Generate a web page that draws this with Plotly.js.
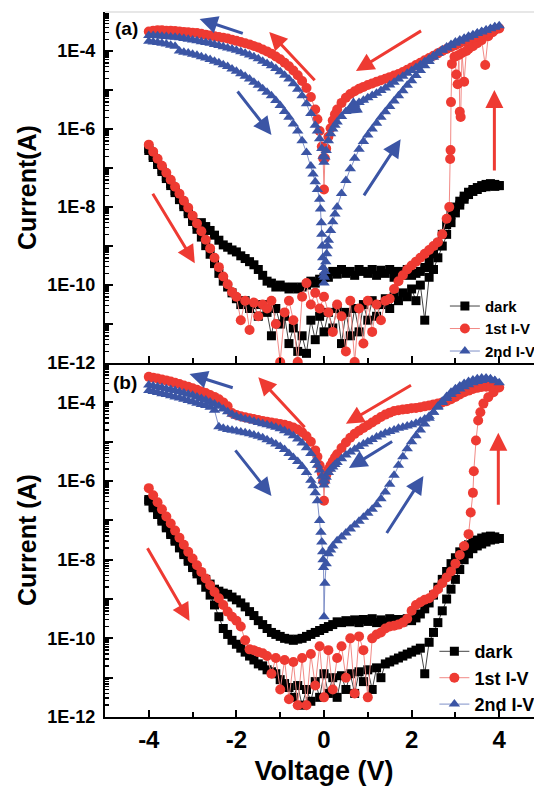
<!DOCTYPE html>
<html>
<head>
<meta charset="utf-8">
<script src="https://cdn.plot.ly/plotly-3.0.1.min.js"></script>
<style>
html,body{margin:0;padding:0;background:#fff;overflow:hidden;}
#chart{width:560px;height:786px;}
</style>
</head>
<body>
<div id="chart"></div>
<script>
// ---------- voltage grids (V) ----------
const vUp = [-4.0,-3.9,-3.8,-3.7,-3.6,-3.5,-3.4,-3.3,-3.2,-3.1,-3.0,-2.9,-2.8,-2.7,-2.6,-2.5,-2.4,-2.3,-2.2,-2.1,
 -2.0,-1.9,-1.8,-1.7,-1.6,-1.5,-1.4,-1.3,-1.2,-1.1,-1.0,-0.9,-0.8,-0.7,-0.6,-0.5,-0.4,-0.3,-0.2,-0.1,
 0.0,0.1,0.2,0.3,0.4,0.5,0.6,0.7,0.8,0.9,1.0,1.1,1.2,1.3,1.4,1.5,1.6,1.7,1.8,1.9,
 2.0,2.1,2.2,2.3,2.4,2.5,2.6,2.7,2.8,2.9,3.0,3.1,3.2,3.3,3.4,3.5,3.6,3.7,3.8,3.9,4.0];
const vDown = [4.0,3.9,3.8,3.7,3.6,3.5,3.4,3.3,3.2,3.1,3.0,2.9,2.8,2.7,2.6,2.5,2.4,2.3,2.2,2.1,
 2.0,1.9,1.8,1.7,1.6,1.5,1.4,1.3,1.2,1.1,1.0,0.9,0.8,0.7,0.6,0.5,0.4,0.3,0.2,0.1,
 0.0,-0.1,-0.2,-0.3,-0.4,-0.5,-0.6,-0.7,-0.8,-0.9,-1.0,-1.1,-1.2,-1.3,-1.4,-1.5,-1.6,-1.7,-1.8,-1.9,
 -2.0,-2.1,-2.2,-2.3,-2.4,-2.5,-2.6,-2.7,-2.8,-2.9,-3.0,-3.1,-3.2,-3.3,-3.4,-3.5,-3.6,-3.7,-3.8,-3.9,-4.0];
const vRetR = [3.9,3.8,3.7,3.6,3.5,3.4,3.3,3.2,3.1,3.0,2.9,2.8,2.7,2.6,2.5,2.4,2.3,2.2,2.1,2.0,
 1.9,1.8,1.7,1.6,1.5,1.4,1.3,1.2,1.1,1.0,0.9,0.8,0.7,0.6,0.5,0.4,0.3,0.25,0.2,0.15,0.1,0.05,0.02,0.0];
const vRetL = [-0.02,-0.05,-0.1,-0.15,-0.2,-0.3,-0.4,-0.5,-0.6,-0.7,-0.8,-0.9,-1.0,-1.1,-1.2,-1.3,-1.4,-1.5,-1.6,-1.7,
 -1.8,-1.9,-2.0,-2.1,-2.2,-2.3,-2.4,-2.5,-2.6,-2.7,-2.8,-2.9,-3.0,-3.1,-3.2,-3.3,-3.4,-3.5,-3.6,-3.7,-3.8,-3.9,-4.0];
const vDipL = [-4.0,-3.9,-3.8,-3.7,-3.6,-3.5,-3.4,-3.3,-3.2,-3.1,-3.0,-2.9,-2.8,-2.7,-2.6,-2.5,-2.4,-2.3,-2.2,-2.1,
 -2.0,-1.9,-1.8,-1.7,-1.6,-1.5,-1.4,-1.3,-1.2,-1.1,-1.0,-0.9,-0.8,-0.7,-0.6,-0.5,-0.4,-0.3];
const vRise = [0.4,0.5,0.6,0.7,0.8,0.9,1.0,1.1,1.2,1.3,1.4,1.5,1.6,1.7,1.8,1.9,2.0,2.1,2.2,2.3,
 2.4,2.5,2.6,2.7,2.8,2.9,3.0,3.1,3.2,3.3,3.4,3.5,3.6,3.7,3.8,3.9,4.0];

// ---------- panel (a): log10 of current (A) ----------
const aDarkUp = [-6.55,-6.73,-6.91,-7.09,-7.27,-7.45,-7.63,-7.81,-7.99,-8.17,-8.37,-8.57,-8.77,-8.99,-9.21,-9.45,-9.7,-9.9,-10.05,-10.2,
 -10.35,-10.5,-10.4,-10.6,-10.5,-10.8,-10.5,-10.7,-11.3,-10.6,
 -11.0,-10.8,-11.5,-11.1,-11.7,-11.3,-11.75,-10.9,-11.4,-10.8,
 -11.2,-10.7,-11.1,-10.6,-11.5,-10.7,-11.3,-10.6,-11.2,-10.5,
 -10.9,-10.4,-10.8,-10.5,-10.35,-10.6,-10.3,-10.4,-10.2,-10.3,
 -10.1,-10.4,-10.0,-10.9,-9.8,-9.6,-9.3,-9.0,-8.7,-8.4,
 -8.15,-7.95,-7.8,-7.68,-7.6,-7.55,-7.5,-7.48,-7.45,-7.47,-7.45];
const aDarkDown = [-7.45,-7.42,-7.4,-7.42,-7.45,-7.5,-7.55,-7.62,-7.72,-7.85,
 -8.0,-8.2,-8.45,-8.7,-8.95,-9.2,-9.4,-9.55,-9.65,-9.7,
 -9.75,-9.6,-9.75,-9.65,-9.8,-9.6,-9.7,-9.62,-9.75,-9.6,
 -9.7,-9.65,-9.6,-9.75,-9.65,-9.7,-9.6,-9.72,-9.65,-9.8,
 -9.8,-9.85,-9.95,-9.9,-10.0,-10.05,-10.1,-10.05,-10.1,-10.05,
 -10.0,-10.05,-9.95,-9.9,-9.75,-9.6,-9.48,-9.4,-9.32,-9.25,
 -9.15,-9.1,-9.03,-8.97,-8.85,-8.72,-8.6,-8.5,-8.4,-8.45,
 -8.3,-8.12,-7.94,-7.76,-7.58,-7.4,-7.22,-7.04,-6.86,-6.68,-6.5];

const aRedLowV = vUp.slice(0, 69);
const aRedLow = [-6.40,-6.58,-6.76,-6.94,-7.12,-7.30,-7.48,-7.66,-7.84,-8.02,
 -8.22,-8.42,-8.62,-8.84,-9.06,-9.30,-9.54,-9.78,-9.98,-10.18,
 -10.3,-10.9,-10.4,-11.15,-10.45,-10.8,-10.5,-10.6,-10.4,-11.0,
 -11.97,-10.7,-10.4,-10.9,-11.97,-10.3,-9.95,-10.5,-10.2,-10.6,
 -10.3,-10.7,-11.2,-10.5,-10.8,-11.7,-10.4,-11.97,-10.6,-11.5,
 -10.4,-11.2,-10.5,-10.9,-10.4,-10.35,-10.1,-9.9,-9.75,-9.6,
 -9.5,-9.4,-9.3,-9.2,-9.1,-9.0,-8.9,-8.7,-8.3];
const aRedSwV = [2.86,2.88,2.89,2.9,2.92,2.98,3.02,3.05,3.08,3.1,3.12,3.15,3.2,3.25,3.3,3.4,3.5,3.6,3.68,3.75,3.85,4.0];
const aRedSw = [-8.0,-6.77,-6.54,-5.31,-4.33,-4.15,-4.6,-4.85,-4.1,-5.56,-5.69,-4.05,-4.79,-4.0,-3.95,-3.88,-3.8,-3.72,-4.36,-3.62,-3.52,-3.42];
const aRedRetR = [-3.46,-3.5,-3.54,-3.58,-3.62,-3.66,-3.7,-3.75,-3.8,-3.85,
 -3.9,-3.95,-4.0,-4.06,-4.12,-4.18,-4.24,-4.3,-4.36,-4.42,
 -4.48,-4.54,-4.59,-4.63,-4.67,-4.71,-4.75,-4.79,-4.83,-4.87,
 -4.92,-4.97,-5.03,-5.1,-5.2,-5.33,-5.5,
 -5.62,-5.78,-5.98,-6.2,-6.5,-6.75,-7.55];
const aRedRetL = [-6.75,-6.45,-6.05,-5.75,-5.5,
 -5.18,-4.95,-4.77,-4.62,-4.5,-4.39,-4.3,-4.21,-4.14,-4.07,
 -4.01,-3.96,-3.91,-3.87,-3.83,-3.8,-3.77,-3.74,-3.71,-3.68,
 -3.66,-3.64,-3.62,-3.6,-3.58,-3.56,-3.54,-3.53,-3.52,-3.51,
 -3.5,-3.49,-3.48,-3.48,-3.47,-3.47,-3.48,-3.5];

const aBlueDipV = vDipL.concat([-0.25,-0.2,-0.15,-0.1,-0.08,-0.06,-0.05,-0.04,-0.03,-0.02,-0.01,0.0]);
const aBlueDip = [-3.75,-3.77,-3.78,-3.8,-3.82,-3.85,-3.88,-4.0,-4.03,-4.05,
 -4.08,-4.11,-4.15,-4.18,-4.22,-4.26,-4.3,-4.35,-4.4,-4.46,
 -4.52,-4.58,-4.65,-4.72,-4.8,-4.88,-4.97,-5.06,-5.15,-5.27,
 -5.4,-5.55,-5.7,-5.87,-6.05,-6.3,-6.6,-6.95,
 -7.15,-7.35,-7.55,-7.8,-8.05,-8.4,-8.7,-9.0,-9.3,-9.55,-9.75,-9.95];
const aBlueRiseV = [0.01,0.02,0.04,0.06,0.08,0.1,0.15,0.2,0.25,0.3].concat(vRise);
const aBlueRise = [-9.8,-9.65,-9.4,-9.2,-9.0,-8.85,-8.6,-8.38,-8.18,-8.0,
 -7.65,-7.32,-7.02,-6.75,-6.52,-6.32,-6.15,-6.0,-5.85,-5.7,
 -5.56,-5.42,-5.28,-5.15,-5.02,-4.88,-4.76,-4.63,-4.5,-4.38,
 -4.27,-4.16,-4.06,-3.97,-3.9,-3.83,-3.77,-3.72,-3.67,-3.62,
 -3.58,-3.54,-3.5,-3.46,-3.42,-3.38,-3.35];
const aBlueRetR = [-3.39,-3.43,-3.47,-3.51,-3.55,-3.6,-3.65,-3.7,-3.75,-3.8,
 -3.86,-3.92,-3.98,-4.05,-4.12,-4.2,-4.27,-4.35,-4.42,-4.5,
 -4.57,-4.65,-4.72,-4.8,-4.87,-4.95,-5.01,-5.08,-5.14,-5.2,
 -5.26,-5.32,-5.38,-5.45,-5.55,-5.68,-5.82,
 -5.9,-6.0,-6.12,-6.3,-6.55,-6.72,-6.85];
const aBlueRetL = [-6.7,-6.5,-6.25,-6.05,-5.9,
 -5.6,-5.35,-5.15,-4.98,-4.84,-4.72,-4.62,-4.53,-4.45,-4.38,
 -4.32,-4.26,-4.2,-4.15,-4.1,-4.06,-4.02,-3.98,-3.95,-3.92,
 -3.89,-3.86,-3.83,-3.8,-3.78,-3.76,-3.74,-3.72,-3.7,-3.68,
 -3.66,-3.65,-3.64,-3.63,-3.62,-3.61,-3.6,-3.6];

// ---------- panel (b): log10 of current (A) ----------
const bDarkUp = [-6.51,-6.68,-6.85,-7.02,-7.19,-7.36,-7.53,-7.7,-7.87,-8.04,
 -8.2,-8.36,-8.52,-8.7,-8.9,-9.15,-9.45,-9.75,-9.9,-10.05,
 -10.15,-10.25,-10.35,-10.45,-10.55,-10.65,-10.7,-10.8,-10.85,-10.9,
 -11.05,-11.15,-11.25,-11.5,-11.2,-11.7,-11.3,-11.6,-11.1,-11.5,
 -10.9,-11.4,-11.0,-11.5,-10.95,-11.3,-10.9,-11.4,-10.85,-11.1,
 -10.8,-11.3,-10.75,-11.0,-10.65,-10.6,-10.55,-10.5,-10.45,-10.4,
 -10.35,-10.3,-10.25,-10.9,-10.1,-9.85,-9.6,-9.3,-9.0,-8.75,
 -8.5,-8.25,-8.0,-7.85,-7.72,-7.65,-7.6,-7.55,-7.5,-7.48,-7.46];
const bDarkDown = [-7.46,-7.42,-7.4,-7.42,-7.45,-7.5,-7.55,-7.62,-7.7,-7.8,
 -7.95,-8.1,-8.3,-8.5,-8.7,-8.9,-9.1,-9.25,-9.38,-9.48,
 -9.55,-9.5,-9.58,-9.52,-9.6,-9.5,-9.58,-9.53,-9.6,-9.5,
 -9.57,-9.52,-9.6,-9.53,-9.58,-9.55,-9.6,-9.58,-9.65,-9.7,
 -9.75,-9.8,-9.85,-9.9,-9.95,-10.0,-10.02,-10.05,-10.02,-10.0,
 -9.95,-9.9,-9.85,-9.75,-9.65,-9.55,-9.42,-9.32,-9.2,-9.1,
 -9.02,-8.95,-8.88,-8.85,-8.8,-8.75,-8.62,-8.5,-8.42,-8.3,
 -8.15,-8.0,-7.83,-7.66,-7.49,-7.32,-7.15,-6.98,-6.81,-6.64,-6.47];

const bRedLowV = vUp.slice(0, 74);
const bRedLow = [-6.18,-6.36,-6.54,-6.72,-6.9,-7.08,-7.26,-7.44,-7.62,-7.8,
 -7.97,-8.14,-8.31,-8.48,-8.65,-8.82,-8.98,-9.15,-9.32,-9.45,
 -9.55,-9.7,-10.05,-10.28,-10.3,-10.35,-10.38,-10.45,-10.9,-10.5,
 -11.3,-10.55,-11.55,-10.6,-11.7,-10.5,-11.7,-10.4,-11.2,-10.2,
 -11.5,-10.3,-11.3,-10.5,-10.2,-11.0,-10.0,-11.4,-9.95,-10.3,
 -11.5,-10.0,-9.9,-9.85,-9.75,-9.7,-9.68,-9.65,-9.6,-9.5,
 -9.3,-9.15,-9.08,-9.02,-8.98,-8.88,-8.75,-8.6,-8.45,-8.3,
 -8.1,-7.88,-7.65,-7.35];
const bRedSwV = [3.35,3.4,3.42,3.47,3.52,3.57,3.64,3.75,3.87,4.0];
const bRedSw = [-6.8,-6.3,-5.75,-4.97,-4.46,-4.25,-4.03,-3.87,-3.74,-3.62];
const bRedRetR = [-3.61,-3.6,-3.6,-3.61,-3.63,-3.66,-3.7,-3.74,-3.8,-3.86,
 -3.92,-3.97,-4.0,-4.03,-4.05,-4.08,-4.1,-4.12,-4.14,-4.15,
 -4.17,-4.18,-4.2,-4.22,-4.26,-4.31,-4.37,-4.44,-4.51,-4.58,
 -4.65,-4.72,-4.8,-4.9,-5.02,-5.16,-5.32,
 -5.4,-5.5,-5.6,-5.7,-5.85,-6.0,-6.5];
const bRedRetL = [-6.0,-5.8,-5.6,-5.38,-5.22,
 -5.0,-4.86,-4.76,-4.69,-4.64,-4.6,-4.57,-4.55,-4.53,-4.51,
 -4.49,-4.47,-4.45,-4.42,-4.4,-4.38,-4.35,-4.32,-4.27,-4.1,
 -4.0,-3.92,-3.86,-3.81,-3.76,-3.72,-3.68,-3.64,-3.6,-3.57,
 -3.53,-3.5,-3.47,-3.44,-3.42,-3.39,-3.37,-3.35];

const bBlueDipV = vDipL.concat([-0.25,-0.2,-0.15,-0.1,-0.07,-0.05,-0.03,-0.02,-0.01,0.0]);
const bBlueDip = [-3.7,-3.72,-3.75,-3.78,-3.8,-3.83,-3.86,-3.89,-3.92,-3.95,
 -3.98,-4.02,-4.05,-4.08,-4.12,-4.2,-4.62,-4.66,-4.69,-4.71,
 -4.73,-4.75,-4.77,-4.8,-4.83,-4.86,-4.9,-4.95,-5.0,-5.06,
 -5.12,-5.2,-5.3,-5.4,-5.5,-5.63,-5.78,-5.98,
 -6.12,-6.3,-6.5,-7.0,-7.3,-7.55,-7.8,-8.0,-8.2,-9.45];
const bBlueRiseV = [0.02,0.05,0.1,0.15,0.2,0.3].concat(vRise);
const bBlueRise = [-8.6,-8.1,-7.85,-7.75,-7.65,
 -7.52,-7.42,-7.32,-7.22,-7.12,-7.02,-6.92,-6.82,-6.72,-6.6,
 -6.45,-6.28,-6.08,-5.85,-5.6,-5.38,-5.18,-5.0,-4.85,-4.7,
 -4.55,-4.4,-4.25,-4.1,-3.97,-3.85,-3.74,-3.65,-3.58,-3.52,
 -3.47,-3.43,-3.4,-3.38,-3.38,-3.4,-3.44,-3.5];
const bBlueRetR = [-3.45,-3.42,-3.42,-3.44,-3.47,-3.5,-3.55,-3.6,-3.66,-3.72,
 -3.8,-3.9,-4.0,-4.12,-4.25,-4.35,-4.42,-4.48,-4.53,-4.57,
 -4.6,-4.63,-4.66,-4.7,-4.74,-4.78,-4.83,-4.88,-4.94,-5.0,
 -5.06,-5.12,-5.19,-5.26,-5.34,-5.43,-5.53,
 -5.58,-5.64,-5.7,-5.78,-5.9,-6.0,-6.1];
const bBlueRetL = [-6.0,-5.88,-5.72,-5.6,-5.48,
 -5.3,-5.15,-5.03,-4.93,-4.85,-4.78,-4.72,-4.67,-4.63,-4.6,
 -4.57,-4.54,-4.51,-4.48,-4.45,-4.42,-4.39,-4.35,-4.3,-4.24,
 -4.17,-4.1,-4.04,-3.99,-3.94,-3.9,-3.86,-3.82,-3.79,-3.76,
 -3.73,-3.7,-3.67,-3.65,-3.62,-3.6,-3.58,-3.56];

// ---------- labels ----------
const seriesNames = ['dark', '1st I-V', '2nd I-V'];
const yTickVals = [1e-12,1e-11,1e-10,1e-9,1e-8,1e-7,1e-6,1e-5,1e-4];
const yTickText = ['1E-12','','1E-10','','1E-8','','1E-6','','1E-4'];
const xTickVals = [-4,-2,0,2,4];
const xTickText = ['-4','-2','0','2','4'];
const panelLabels = ['(a)', '(b)'];

// direction arrows: [V tail, log10 I tail, V head, log10 I head, colour]
const arrowsA = [
 [-1.82,-3.56,-2.84,-3.18,'b'], [-0.18,-4.79,-1.25,-3.51,'r'], [-2.0,-5.0,-1.2,-6.15,'b'],
 [-3.93,-7.62,-2.95,-9.44,'r'], [2.25,-3.46,0.73,-4.51,'r'], [1.45,-4.92,0.43,-5.62,'b'],
 [0.89,-7.74,1.75,-6.26,'b'], [3.89,-7.1,3.89,-5.0,'r']];
const arrowsB = [
 [-2.05,-3.64,-3.07,-3.28,'b'], [-0.41,-4.67,-1.5,-3.36,'r'], [-2.05,-5.18,-1.2,-6.38,'b'],
 [-4.05,-7.67,-3.07,-9.56,'r'], [2.02,-3.54,0.5,-4.54,'r'], [1.59,-4.97,0.57,-5.67,'b'],
 [1.41,-7.36,2.27,-5.87,'b'], [3.98,-6.64,3.98,-4.77,'r']];

// ---------- build ----------
function chk(n, a, b){ if (a.length !== b.length) throw new Error(n + ': ' + a.length + ' vs ' + b.length); }
const p10 = arr => arr.map(v => Math.pow(10, v));

const aDarkV = vUp.concat(vDown), aDarkL = aDarkUp.concat(aDarkDown);
const aRedV = aRedLowV.concat(aRedSwV, vRetR, vRetL), aRedL = aRedLow.concat(aRedSw, aRedRetR, aRedRetL);
const aBlueV = aBlueDipV.concat(aBlueRiseV, vRetR, vRetL), aBlueL = aBlueDip.concat(aBlueRise, aBlueRetR, aBlueRetL);
const bDarkV = vUp.concat(vDown), bDarkL = bDarkUp.concat(bDarkDown);
const bRedV = bRedLowV.concat(bRedSwV, vRetR, vRetL), bRedL = bRedLow.concat(bRedSw, bRedRetR, bRedRetL);
const bBlueV = bBlueDipV.concat(bBlueRiseV, vRetR, vRetL), bBlueL = bBlueDip.concat(bBlueRise, bBlueRetR, bBlueRetL);
chk('aDark', aDarkV, aDarkL); chk('aRed', aRedV, aRedL); chk('aBlue', aBlueV, aBlueL);
chk('bDark', bDarkV, bDarkL); chk('bRed', bRedV, bRedL); chk('bBlue', bBlueV, bBlueL);

const RED = '#EE3A32', BLUE = '#3B55A5', BLACK = '#000000';
const F = 'Liberation Sans, Arial, sans-serif';
const styles = [
 {symbol:'square', size:9, color:BLACK, line:'#444444'},
 {symbol:'circle', size:10, color:RED, line:'#F28A86'},
 {symbol:'triangle-up', size:10, color:BLUE, line:'#7F90C8'}];

function tr(i, x, y, xa, ya, leg){
  const s = styles[i];
  return {x:x, y:p10(y), type:'scatter', mode:'lines+markers', name:seriesNames[i],
    xaxis:xa, yaxis:ya, legend:leg,
    marker:{symbol:s.symbol, size:s.size, color:s.color, line:{width:0}},
    line:{color:s.line, width:1}};
}
const data = [
  tr(0, aDarkV, aDarkL, 'x', 'y', 'legend'), tr(1, aRedV, aRedL, 'x', 'y', 'legend'), tr(2, aBlueV, aBlueL, 'x', 'y', 'legend'),
  tr(0, bDarkV, bDarkL, 'x2', 'y2', 'legend2'), tr(1, bRedV, bRedL, 'x2', 'y2', 'legend2'), tr(2, bBlueV, bBlueL, 'x2', 'y2', 'legend2')];

const minorY = [];
for (let k = -12; k < -3; k++) for (let m = 2; m <= 9; m++) minorY.push(m * Math.pow(10, k));

function xAxis(anchor, labels){
  return {domain:[0,1], anchor:anchor, range:[-5,5], showline:true, linecolor:'#000', linewidth:2,
    ticks:'inside', ticklen:7, tickwidth:2, tickcolor:'#000', tickmode:'array', tickvals:xTickVals, ticktext:xTickText,
    showticklabels:labels, ticklabelstandoff:0, tickfont:{family:F, size:24, weight:700, color:'#000'},
    minor:{ticks:'inside', ticklen:5, tickwidth:2, tickcolor:'#000', tickmode:'array', tickvals:[-3,-1,1,3]},
    zeroline:false, showgrid:false, fixedrange:true};
}
function yAxis(anchor, domain, title){
  return {domain:domain, anchor:anchor, type:'log', range:[-12,-3], showline:true, linecolor:'#000', linewidth:2,
    ticks:'inside', ticklen:8, tickwidth:2, tickcolor:'#000', tickmode:'array', tickvals:yTickVals, ticktext:yTickText,
    ticklabelstandoff:4, tickfont:{family:F, size:18, weight:700, color:'#000'},
    minor:{ticks:'inside', ticklen:4, tickwidth:1.5, tickcolor:'#000', tickmode:'array', tickvals:minorY},
    title:{text:title, font:{family:F, size:25, weight:700, color:'#000'}, standoff:4},
    zeroline:false, showgrid:false, fixedrange:true};
}

const annotations = [];
function addArrows(list, xr, yr){
  list.forEach(a => annotations.push({x:a[2], y:a[3], ax:a[0], ay:a[1], xref:xr, yref:yr, axref:xr, ayref:yr,
    text:'', showarrow:true, arrowhead:2, arrowsize:1.2, arrowwidth:3, standoff:0, startstandoff:0,
    arrowcolor: a[4] === 'r' ? RED : BLUE}));
}
addArrows(arrowsA, 'x', 'y');
addArrows(arrowsB, 'x2', 'y2');
annotations.push({text:panelLabels[0], xref:'paper', yref:'paper', x:0.05, y:0.976, xanchor:'center', yanchor:'middle',
  showarrow:false, font:{family:F, size:19, weight:700, color:'#000'}});
annotations.push({text:panelLabels[1], xref:'paper', yref:'paper', x:0.046, y:0.475, xanchor:'center', yanchor:'middle',
  showarrow:false, font:{family:F, size:19, weight:700, color:'#000'}});

const xa2 = xAxis('y2', true);
xa2.title = {text:'Voltage (V)', font:{family:F, size:27, weight:700, color:'#000'}, standoff:14};

const layout = {
  width:560, height:786, margin:{l:105, r:17, t:12, b:69},
  paper_bgcolor:'#fff', plot_bgcolor:'#fff', showlegend:true,
  xaxis:xAxis('y', false), xaxis2:xa2,
  yaxis:yAxis('x', [0.502, 1], 'Current(A)'),
  yaxis2:yAxis('x2', [0, 0.502], 'Current (A)'),
  legend:{x:0.776, y:0.606, xanchor:'left', yanchor:'top', bgcolor:'rgba(0,0,0,0)', borderwidth:0,
    font:{family:F, size:15, weight:700, color:'#000'}, tracegroupgap:0},
  legend2:{x:0.752, y:0.119, xanchor:'left', yanchor:'top', bgcolor:'rgba(0,0,0,0)', borderwidth:0,
    font:{family:F, size:18, weight:700, color:'#000'}, tracegroupgap:0},
  annotations:annotations,
  shapes:[{type:'line', xref:'paper', yref:'paper', x0:0, x1:1, y0:1, y1:1, line:{color:'#cfcfcf', width:1}}]
};

Plotly.newPlot('chart', data, layout, {staticPlot:true, displayModeBar:false});
</script>
</body>
</html>
